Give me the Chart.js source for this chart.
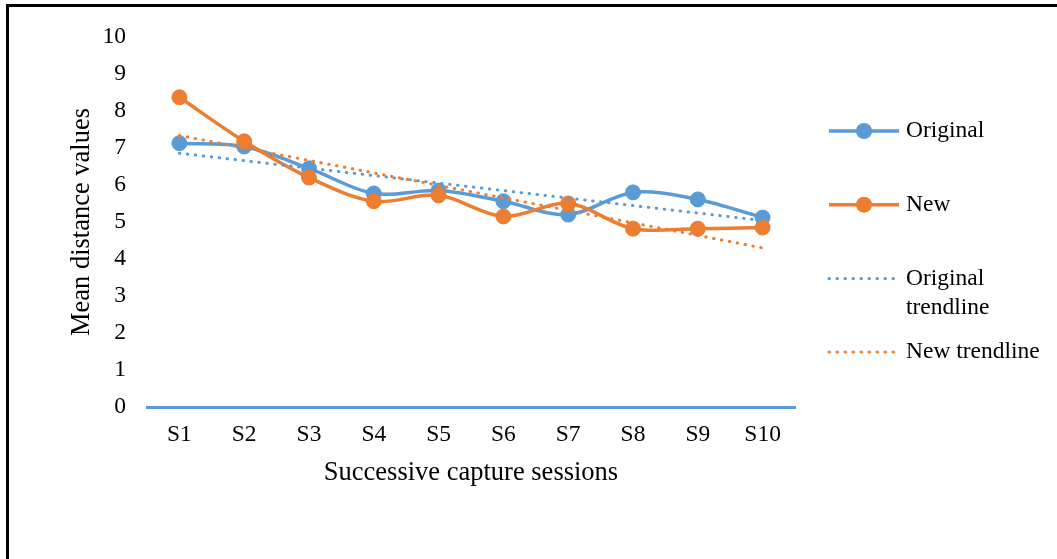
<!DOCTYPE html>
<html>
<head>
<meta charset="utf-8">
<title>Mean distance values per capture session</title>
<script src="https://cdn.jsdelivr.net/npm/chart.js@4.4.1/dist/chart.umd.min.js"></script>
<style>
  html, body { margin: 0; padding: 0; background: #fff; }
  #wrap { position: relative; width: 1057px; height: 559px; overflow: hidden; }
  #frame { position: absolute; left: 6px; top: 4px; width: 1100px; height: 600px;
           border-top: 3px solid #000; border-left: 3px solid #000; pointer-events: none; }
  canvas { position: absolute; left: 0; top: 0; }
</style>
</head>
<body>
<div id="wrap">
  <canvas id="chart" width="1057" height="559"></canvas>
  <div id="frame"></div>
</div>
<script>
// Capture sessions on the x axis
const sessions = ['S1', 'S2', 'S3', 'S4', 'S5', 'S6', 'S7', 'S8', 'S9', 'S10'];

// Mean distance values per session
const originalMeans = [7.13, 7.04, 6.45, 5.77, 5.85, 5.56, 5.20, 5.80, 5.61, 5.12];
const newMeans      = [8.37, 7.18, 6.20, 5.56, 5.72, 5.15, 5.50, 4.82, 4.82, 4.85];

// Linear trendlines: values at the first and last session
const originalTrend = [6.86, null, null, null, null, null, null, null, null, 5.04];
const newTrend      = [7.34, null, null, null, null, null, null, null, null, 4.30];

// Y axis ticks
const yTicks = [0, 1, 2, 3, 4, 5, 6, 7, 8, 9, 10];

// Legend labels (array = several text lines)
const seriesLabels = [['Original'], ['New'], ['Original', 'trendline'], ['New trendline']];

const BLUE = '#5B9BD5';
const ORANGE = '#ED7D31';
const FONT = "'Liberation Serif', 'Times New Roman', serif";

// Legend drawn at the right of the plot, one entry per dataset
const sideLegend = {
  id: 'sideLegend',
  afterDraw(chart) {
    const ctx = chart.ctx;
    const x0 = 829, x1 = 899, textX = 906;
    const firstY = 131, step = 73.7, lineGap = 29;
    ctx.save();
    chart.data.datasets.forEach((ds, i) => {
      const y = firstY + i * step;
      ctx.strokeStyle = ds.borderColor;
      ctx.lineWidth = ds.borderWidth;
      ctx.lineCap = ds.borderCapStyle || 'butt';
      ctx.setLineDash(ds.borderDash || []);
      ctx.beginPath();
      ctx.moveTo(x0, y);
      ctx.lineTo(x1, y);
      ctx.stroke();
      ctx.setLineDash([]);
      if (ds.pointRadius > 0) {
        ctx.fillStyle = ds.borderColor;
        ctx.beginPath();
        ctx.arc((x0 + x1) / 2, y, ds.pointRadius + ds.pointBorderWidth / 2, 0, Math.PI * 2);
        ctx.fill();
      }
      ctx.fillStyle = '#000';
      ctx.font = '23.5px ' + FONT;
      ctx.textAlign = 'left';
      ctx.textBaseline = 'middle';
      seriesLabels[i].forEach((line, j) => ctx.fillText(line, textX, y + j * lineGap));
    });
    ctx.restore();
  }
};

new Chart(document.getElementById('chart'), {
  type: 'line',
  data: {
    labels: sessions,
    datasets: [
      {
        label: seriesLabels[0].join(' '),
        data: originalMeans,
        borderColor: BLUE,
        backgroundColor: BLUE,
        pointBackgroundColor: BLUE,
        pointBorderColor: BLUE,
        borderWidth: 3.5,
        pointRadius: 7.5,
        pointBorderWidth: 1,
        tension: 0.33,
        order: 3
      },
      {
        label: seriesLabels[1].join(' '),
        data: newMeans,
        borderColor: ORANGE,
        backgroundColor: ORANGE,
        pointBackgroundColor: ORANGE,
        pointBorderColor: ORANGE,
        borderWidth: 3.5,
        pointRadius: 7.5,
        pointBorderWidth: 1,
        tension: 0.33,
        order: 2
      },
      {
        label: seriesLabels[2].join(' '),
        data: originalTrend,
        borderColor: BLUE,
        borderWidth: 3,
        borderDash: [0.5, 7.5],
        borderCapStyle: 'round',
        pointRadius: 0,
        pointBorderWidth: 0,
        spanGaps: true,
        tension: 0,
        order: 1
      },
      {
        label: seriesLabels[3].join(' '),
        data: newTrend,
        borderColor: ORANGE,
        borderWidth: 3,
        borderDash: [0.5, 7.5],
        borderCapStyle: 'round',
        pointRadius: 0,
        pointBorderWidth: 0,
        spanGaps: true,
        tension: 0,
        order: 0
      }
    ]
  },
  options: {
    responsive: false,
    animation: false,
    events: [],
    layout: { padding: { left: 0, top: 37, right: 262, bottom: 0 } },
    plugins: {
      legend: { display: false },
      tooltip: { enabled: false }
    },
    scales: {
      x: {
        offset: true,
        grid: { display: false, drawTicks: false },
        border: { display: true, color: BLUE, width: 3 },
        ticks: { color: '#000', font: { family: FONT, size: 23.5 }, padding: 14, maxRotation: 0 },
        title: {
          display: true,
          text: 'Successive capture sessions',
          color: '#000',
          font: { family: FONT, size: 26.5 },
          padding: { top: 0, bottom: 70 }
        },
        afterFit(scale) { scale.height = 152; }
      },
      y: {
        min: 0,
        max: 10,
        afterBuildTicks(scale) { scale.ticks = yTicks.map(v => ({ value: v })); },
        grid: { display: false, drawTicks: false },
        border: { display: false },
        ticks: { color: '#000', font: { family: FONT, size: 23.5 }, padding: 21 },
        title: {
          display: true,
          text: 'Mean distance values',
          color: '#000',
          font: { family: FONT, size: 26.5 },
          padding: { top: 66, bottom: 0 }
        },
        afterFit(scale) { scale.width = 147; }
      }
    }
  },
  plugins: [sideLegend]
});
</script>
</body>
</html>
